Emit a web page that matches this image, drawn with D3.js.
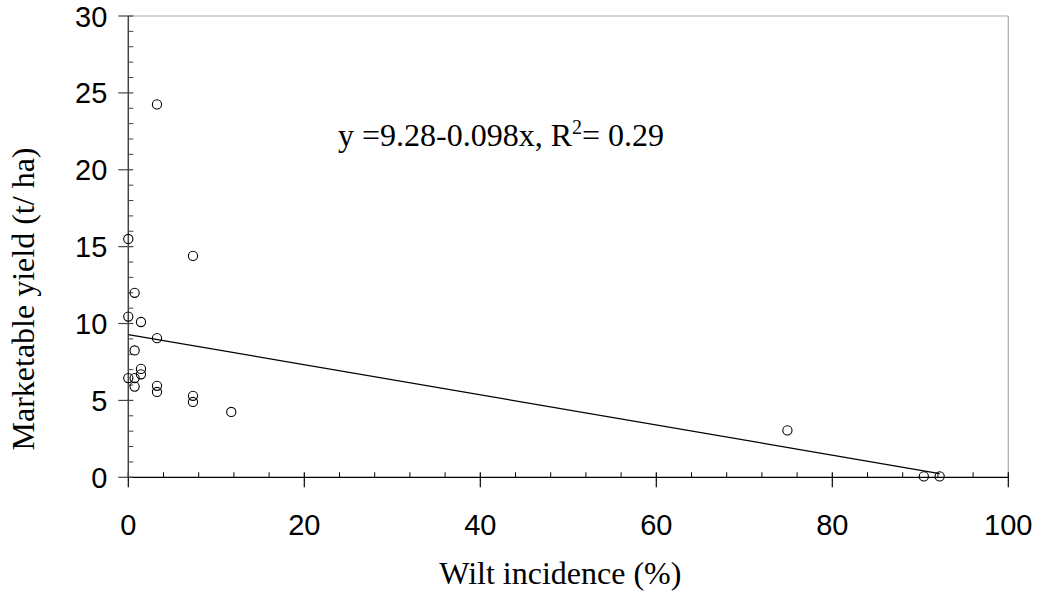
<!DOCTYPE html>
<html>
<head>
<meta charset="utf-8">
<script src="https://cdn.jsdelivr.net/npm/d3@7"></script>
<style>
  body { margin: 0; background: #fff; }
  svg { display: block; }
  .tick-label { font-family: "Liberation Sans", Arial, sans-serif; font-size: 29px; fill: #000; }
  .title { font-family: "Liberation Serif", "Times New Roman", serif; font-size: 32px; fill: #000; }
</style>
</head>
<body>
<svg id="chart"></svg>
<script>
const WIDTH = 1042;
const HEIGHT = 592;

// wilt incidence (%) and marketable yield (t/ha)
const wilt = [0, 7.35, 0.72, 0, 1.44, 3.26, 0.72, 1.44, 1.44, 0, 0.72, 0.72, 3.26, 3.26, 7.35, 7.35, 11.7, 3.26, 74.9, 90.4, 92.2];
const yieldT = [15.5, 14.4, 12.0, 10.45, 10.1, 9.05, 8.25, 7.05, 6.7, 6.45, 6.45, 5.9, 5.95, 5.55, 5.3, 4.9, 4.25, 24.25, 3.05, 0.06, 0.06];

const fitIntercept = 9.28;
const fitSlope = -0.098;
const fitRange = [0, 92.2];

const xMajor = [0, 20, 40, 60, 80, 100];
const yMajor = [0, 5, 10, 15, 20, 25, 30];

const margin = { left: 128.3, right: 1042 - 1008.3, top: 16, bottom: 592 - 477.3 };

const svg = d3.select('#chart')
  .attr('width', WIDTH)
  .attr('height', HEIGHT);

const x = d3.scaleLinear().domain([0, 100]).range([margin.left, WIDTH - margin.right]);
const y = d3.scaleLinear().domain([0, 30]).range([HEIGHT - margin.bottom, margin.top]);

// frame: top and right in light grey
svg.append('line')
  .attr('x1', x(0)).attr('x2', x(100))
  .attr('y1', y(30)).attr('y2', y(30))
  .attr('stroke', '#aaa').attr('stroke-width', 1.2);
svg.append('line')
  .attr('x1', x(100)).attr('x2', x(100))
  .attr('y1', y(30)).attr('y2', y(0))
  .attr('stroke', '#aaa').attr('stroke-width', 1.2);

// x axis
const xAxis = svg.append('g');
xAxis.append('line')
  .attr('x1', x(0)).attr('x2', x(100))
  .attr('y1', y(0)).attr('y2', y(0))
  .attr('stroke', '#000').attr('stroke-width', 1.3);
xAxis.selectAll('.minor')
  .data(d3.range(0, 101, 4).filter(d => d % 20 !== 0))
  .enter().append('line')
  .attr('x1', d => x(d)).attr('x2', d => x(d))
  .attr('y1', y(0)).attr('y2', y(0) - 5)
  .attr('stroke', '#000');
xAxis.selectAll('.major')
  .data(xMajor)
  .enter().append('line')
  .attr('x1', d => x(d)).attr('x2', d => x(d))
  .attr('y1', y(0) - 5).attr('y2', y(0) + 10)
  .attr('stroke', '#000').attr('stroke-width', 1.2);
xAxis.selectAll('text')
  .data(xMajor)
  .enter().append('text')
  .attr('class', 'tick-label')
  .attr('x', d => x(d))
  .attr('y', y(0) + 58)
  .attr('text-anchor', 'middle')
  .text(d => d);

// y axis
const yAxis = svg.append('g');
yAxis.append('line')
  .attr('x1', x(0)).attr('x2', x(0))
  .attr('y1', y(0)).attr('y2', y(30))
  .attr('stroke', '#444').attr('stroke-width', 1.5);
yAxis.selectAll('.minor')
  .data(d3.range(0, 31).filter(d => d % 5 !== 0))
  .enter().append('line')
  .attr('x1', x(0)).attr('x2', x(0) + 5)
  .attr('y1', d => y(d)).attr('y2', d => y(d))
  .attr('stroke', '#444');
yAxis.selectAll('.major')
  .data(yMajor)
  .enter().append('line')
  .attr('x1', x(0) - 10).attr('x2', x(0) + 5)
  .attr('y1', d => y(d)).attr('y2', d => y(d))
  .attr('stroke', '#444').attr('stroke-width', 1.2);
yAxis.selectAll('text')
  .data(yMajor)
  .enter().append('text')
  .attr('class', 'tick-label')
  .attr('x', x(0) - 21)
  .attr('y', d => y(d) + 10.5)
  .attr('text-anchor', 'end')
  .text(d => d);

// regression line
svg.append('line')
  .attr('x1', x(fitRange[0])).attr('y1', y(fitIntercept + fitSlope * fitRange[0]))
  .attr('x2', x(fitRange[1])).attr('y2', y(fitIntercept + fitSlope * fitRange[1]))
  .attr('stroke', '#000').attr('stroke-width', 1.2);

// points
svg.selectAll('circle')
  .data(wilt.map((w, i) => [w, yieldT[i]]))
  .enter().append('circle')
  .attr('cx', d => x(d[0]))
  .attr('cy', d => y(d[1]))
  .attr('r', 4.6)
  .attr('fill', 'none')
  .attr('stroke', '#000')
  .attr('stroke-width', 1.1);

// equation
const eq = svg.append('text')
  .attr('class', 'title')
  .attr('x', 338)
  .attr('y', 146);
eq.append('tspan').text('y =9.28-0.098x, R');
eq.append('tspan').attr('font-size', '20px').attr('dy', -12).text('2');
eq.append('tspan').attr('dy', 12).text('= 0.29');

// axis titles
svg.append('text')
  .attr('class', 'title')
  .attr('x', x(50) - 8)
  .attr('y', 584)
  .attr('text-anchor', 'middle')
  .text('Wilt incidence (%)');

svg.append('text')
  .attr('class', 'title')
  .attr('transform', 'translate(34,299) rotate(-90)')
  .attr('text-anchor', 'middle')
  .text('Marketable yield (t/ ha)');
</script>
</body>
</html>
